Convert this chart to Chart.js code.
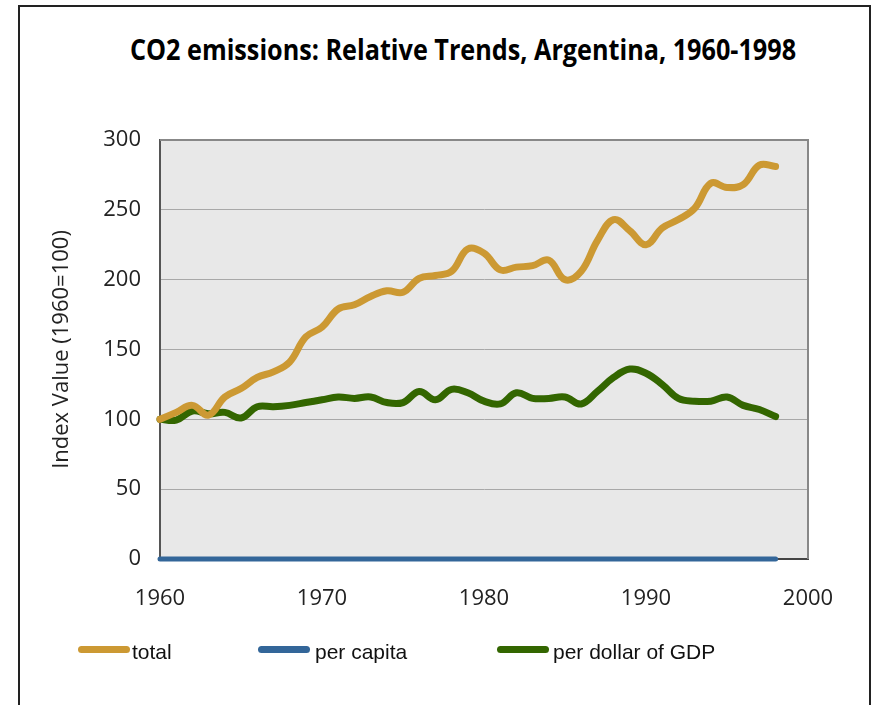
<!DOCTYPE html>
<html>
<head>
<meta charset="utf-8">
<title>CO2 emissions: Relative Trends, Argentina, 1960-1998</title>
<script src="https://cdn.jsdelivr.net/npm/chart.js@4.4.1/dist/chart.umd.min.js"></script>
<style>
    html, body { margin: 0; padding: 0; background: #fff; overflow: hidden; }
    body { position: relative; width: 878px; height: 705px; }
    .frame {
        position: absolute; left: 18px; top: 5px; width: 853px; height: 720px;
        box-sizing: border-box; border: 2px solid #222; border-bottom: none;
    }
    #myChart { position: absolute; left: 0; top: 0; }
    .title {
        position: absolute; left: 0; top: 35px; width: 926px; text-align: center;
        font: bold 28px 'Open Sans', sans-serif; line-height: 28px; color: #000;
        white-space: nowrap; transform: scaleX(0.9); transform-origin: 463px 0;
    }
    .legend .swatch { position: absolute; top: 646px; width: 52px; height: 7px; border-radius: 4px; }
    .legend .label {
        position: absolute; top: 641px; font: 21px 'Liberation Sans', Arial, sans-serif;
        line-height: 21px; color: #111; white-space: nowrap;
    }
</style>
</head>
<body>
<div class="frame"></div>
<div class="title">CO2 emissions: Relative Trends, Argentina, 1960-1998</div>
<canvas id="myChart" width="878" height="705"></canvas>
<div class="legend" id="legend"></div>

<script>
// data
const years = [1960, 1961, 1962, 1963, 1964, 1965, 1966, 1967, 1968, 1969,
               1970, 1971, 1972, 1973, 1974, 1975, 1976, 1977, 1978, 1979,
               1980, 1981, 1982, 1983, 1984, 1985, 1986, 1987, 1988, 1989,
               1990, 1991, 1992, 1993, 1994, 1995, 1996, 1997, 1998];

const total = [100, 105, 110, 103, 116, 122, 130, 134, 141, 159,
               166, 179, 182, 188, 192, 191, 201, 203, 206, 222,
               219, 207, 209, 210, 214, 200, 206, 228, 243, 235,
               225, 237, 243, 251, 269, 266, 268, 282, 281];

const perCapita = [0, 0, 0, 0, 0, 0, 0, 0, 0, 0,
                   0, 0, 0, 0, 0, 0, 0, 0, 0, 0,
                   0, 0, 0, 0, 0, 0, 0, 0, 0, 0,
                   0, 0, 0, 0, 0, 0, 0, 0, 0];

const perGdp = [100, 99.5, 106, 104, 105, 101, 109, 109, 110, 112,
                114, 116, 115, 116, 112, 112, 120, 114, 121.5, 119,
                113, 111, 119, 115, 115, 116, 111, 120, 130, 136,
                133, 125, 115, 113, 113, 116, 110, 107, 102];

const seriesNames = ['total', 'per capita', 'per dollar of GDP'];
const seriesColors = ['#cc9933', '#336699', '#336600'];
const xTicks = [1960, 1970, 1980, 1990, 2000];
const yTicks = [0, 50, 100, 150, 200, 250, 300];

// layout of the html legend (line start, text start)
const legendLayout = [[78, 132], [258, 315], [497, 553]];

const toPoints = (values) => years.map((yr, i) => ({ x: yr, y: values[i] }));

const FONT = { family: "'Open Sans', sans-serif", size: 22 };

// grey plot background + top/right frame
const plotFrame = {
    id: 'plotFrame',
    beforeDraw(chart) {
        const { ctx, chartArea: a } = chart;
        ctx.save();
        ctx.fillStyle = '#e8e8e8';
        ctx.fillRect(a.left, a.top, a.right - a.left, a.bottom - a.top);
        ctx.restore();
    },
    afterDraw(chart) {
        const { ctx, chartArea: a } = chart;
        ctx.save();
        ctx.strokeStyle = '#888';
        ctx.lineWidth = 2;
        ctx.beginPath();
        ctx.moveTo(a.left, a.top);
        ctx.lineTo(a.right, a.top);
        ctx.lineTo(a.right, a.bottom);
        ctx.stroke();
        ctx.restore();
    }
};

const ctx = document.getElementById('myChart');

let myChart = new Chart(ctx, {
    type: 'line',
    data: {
        datasets: [
            { label: seriesNames[0], data: toPoints(total), borderColor: seriesColors[0], borderWidth: 7 },
            { label: seriesNames[1], data: toPoints(perCapita), borderColor: seriesColors[1], borderWidth: 5 },
            { label: seriesNames[2], data: toPoints(perGdp), borderColor: seriesColors[2], borderWidth: 7 }
        ]
    },
    options: {
        responsive: false,
        animation: false,
        devicePixelRatio: 1,
        layout: { padding: { left: 45, right: 70, top: 140, bottom: 86 } },
        elements: {
            point: { radius: 0 },
            line: { tension: 0.4, borderCapStyle: 'round', borderJoinStyle: 'round', fill: false }
        },
        datasets: { line: { clip: false } },
        plugins: {
            legend: { display: false },
            title: { display: false },
            tooltip: { enabled: false }
        },
        scales: {
            x: {
                type: 'linear',
                min: xTicks[0],
                max: xTicks[xTicks.length - 1],
                afterBuildTicks: (scale) => { scale.ticks = xTicks.map(v => ({ value: v })); },
                afterFit: (scale) => { scale.height = 60; },
                grid: { display: false, drawTicks: false },
                border: { display: true, color: '#444', width: 2 },
                ticks: {
                    padding: 27,
                    color: '#222',
                    font: FONT,
                    callback: (value) => String(value)
                }
            },
            y: {
                min: yTicks[0],
                max: yTicks[yTicks.length - 1],
                afterBuildTicks: (scale) => { scale.ticks = yTicks.map(v => ({ value: v })); },
                afterFit: (scale) => { scale.width = 115; },
                grid: { color: '#a8a8a8', lineWidth: 1, drawTicks: false },
                border: { display: true, color: '#555', width: 2 },
                ticks: {
                    padding: 19,
                    color: '#222',
                    font: FONT,
                    callback: (value) => String(value)
                },
                title: {
                    display: true,
                    text: 'Index Value (1960=100)',
                    color: '#222',
                    font: FONT,
                    padding: { top: 4, bottom: 4 }
                }
            }
        }
    },
    plugins: [plotFrame]
});

// html legend
const legendBox = document.getElementById('legend');
seriesNames.forEach((name, i) => {
    const sw = document.createElement('span');
    sw.className = 'swatch';
    sw.style.left = legendLayout[i][0] + 'px';
    sw.style.background = seriesColors[i];
    const lb = document.createElement('span');
    lb.className = 'label';
    lb.style.left = legendLayout[i][1] + 'px';
    lb.textContent = name;
    legendBox.appendChild(sw);
    legendBox.appendChild(lb);
});
</script>
</body>
</html>
